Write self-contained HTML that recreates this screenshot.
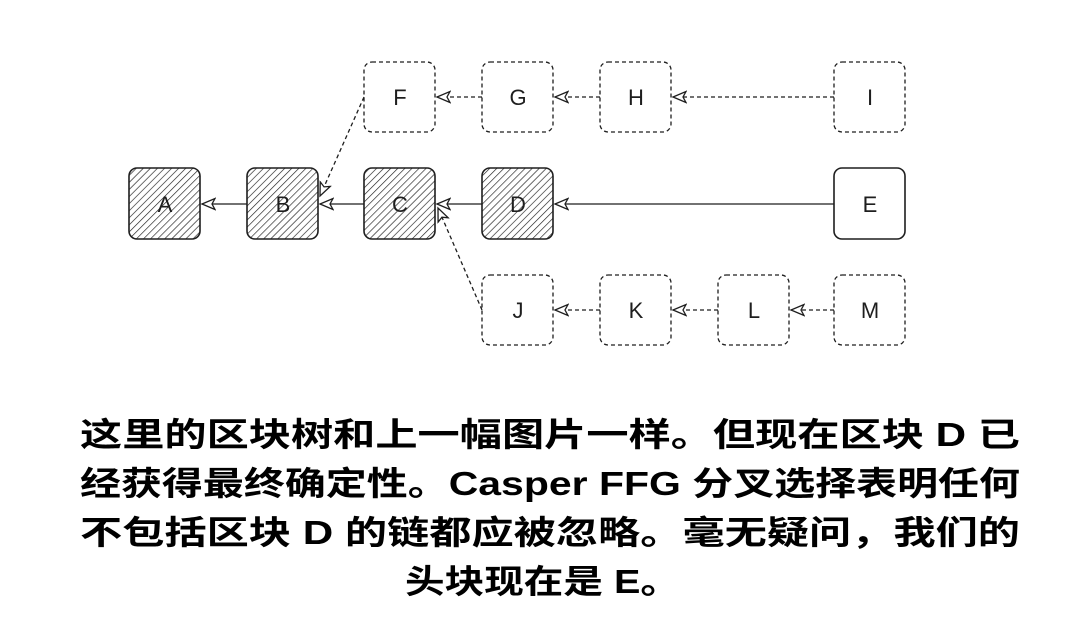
<!DOCTYPE html>
<html><head><meta charset="utf-8"><style>
html,body{margin:0;padding:0;background:#fff;}
svg{display:block}
</style></head><body>
<svg width="1080" height="637" viewBox="0 0 1080 637" xmlns="http://www.w3.org/2000/svg">
<defs>
<pattern id="h" patternUnits="userSpaceOnUse" width="5" height="5" patternTransform="rotate(45)">
<rect width="5" height="5" fill="#fff"/><line x1="0" y1="0" x2="0" y2="5" stroke="#1e1e1e" stroke-width="1.3"/>
</pattern>
<marker id="a" markerWidth="16" markerHeight="14" refX="14" refY="7" orient="auto" markerUnits="userSpaceOnUse">
<path d="M1,1.5 L14,7 L1,12.5 L4,7 Z" fill="#fff" stroke="#1e1e1e" stroke-width="1.3" stroke-dasharray="0"/>
</marker>
</defs>
<g stroke="#1e1e1e" fill="none" stroke-width="1.3">
<!-- boxes -->
<g stroke-width="1.6">
<rect x="129" y="168" width="71" height="71" rx="8" fill="url(#h)"/>
<rect x="247" y="168" width="71" height="71" rx="8" fill="url(#h)"/>
<rect x="364" y="168" width="71" height="71" rx="8" fill="url(#h)"/>
<rect x="482" y="168" width="71" height="71" rx="8" fill="url(#h)"/>
<rect x="834" y="168" width="71" height="71" rx="8" fill="#fff"/>
</g>
<g stroke-dasharray="4 3" fill="#fff">
<rect x="364" y="62" width="71" height="70" rx="8"/>
<rect x="482" y="62" width="71" height="70" rx="8"/>
<rect x="600" y="62" width="71" height="70" rx="8"/>
<rect x="834" y="62" width="71" height="70" rx="8"/>
<rect x="482" y="275" width="71" height="70" rx="8"/>
<rect x="600" y="275" width="71" height="70" rx="8"/>
<rect x="718" y="275" width="71" height="70" rx="8"/>
<rect x="834" y="275" width="71" height="70" rx="8"/>
</g>
<!-- connectors -->
<line x1="834" y1="204" x2="555" y2="204" marker-end="url(#a)"/>
<line x1="482" y1="204" x2="437" y2="204" marker-end="url(#a)"/>
<line x1="364" y1="204" x2="320" y2="204" marker-end="url(#a)"/>
<line x1="247" y1="204" x2="202" y2="204" marker-end="url(#a)"/>
<g stroke-dasharray="4 3">
<line x1="482" y1="97" x2="437" y2="97" marker-end="url(#a)"/>
<line x1="600" y1="97" x2="555" y2="97" marker-end="url(#a)"/>
<line x1="834" y1="97" x2="673" y2="97" marker-end="url(#a)"/>
<line x1="600" y1="310" x2="555" y2="310" marker-end="url(#a)"/>
<line x1="718" y1="310" x2="673" y2="310" marker-end="url(#a)"/>
<line x1="834" y1="310" x2="791" y2="310" marker-end="url(#a)"/>
<line x1="364" y1="97" x2="320" y2="196" marker-end="url(#a)"/>
<line x1="482" y1="310" x2="438" y2="208" marker-end="url(#a)"/>
</g>
</g>
<g font-family="Liberation Sans, sans-serif" font-size="22" fill="#1e1e1e" text-anchor="middle">
<text x="165" y="212">A</text><text x="283" y="212">B</text><text x="400" y="212">C</text><text x="518" y="212">D</text><text x="870" y="212">E</text>
<text x="400" y="105">F</text><text x="518" y="105">G</text><text x="636" y="105">H</text><text x="870" y="105">I</text>
<text x="518" y="318">J</text><text x="636" y="318">K</text><text x="754" y="318">L</text><text x="870" y="318">M</text>
</g>
<g font-family="Liberation Sans, 'Noto Sans CJK SC', sans-serif" font-size="33" font-weight="bold" fill="#000">
<text x="80" y="446" textLength="940" lengthAdjust="spacingAndGlyphs">这里的区块树和上一幅图片一样。但现在区块 D 已</text>
<text x="80" y="495" textLength="940" lengthAdjust="spacingAndGlyphs">经获得最终确定性。Casper FFG 分叉选择表明任何</text>
<text x="80" y="544" textLength="940" lengthAdjust="spacingAndGlyphs">不包括区块 D 的链都应被忽略。毫无疑问，我们的</text>
<text x="405" y="593" textLength="275" lengthAdjust="spacingAndGlyphs">头块现在是 E。</text>
</g>
</svg>
</body></html>
